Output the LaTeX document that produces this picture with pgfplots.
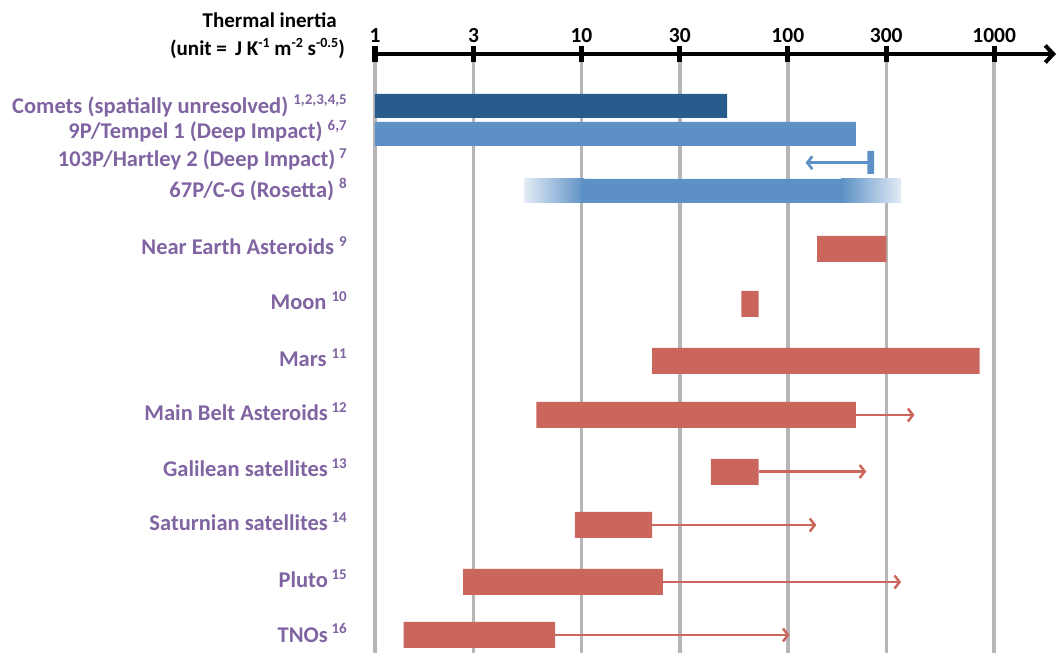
\documentclass[border=0pt]{standalone}
\usepackage{fontspec}
\setmainfont{Carlito}
\usepackage{pgfplots}
\pgfplotsset{compat=1.18}
\usetikzlibrary{arrows.meta}
\definecolor{lab}{RGB}{128,100,162}
\definecolor{dblue}{RGB}{39,92,141}
\definecolor{lblue}{RGB}{93,145,197}
\definecolor{pale}{RGB}{226,235,245}
\definecolor{bred}{RGB}{203,102,92}
\definecolor{grd}{RGB}{182,182,182}
\newcommand\sups[1]{\raisebox{8.5bp}{\fontsize{15bp}{15bp}\selectfont #1}}
\begin{document}
\begin{tikzpicture}
\useasboundingbox (0,0) rectangle (1060bp,653bp);
\begin{axis}[
  at={(375bp,0bp)}, anchor=south west,
  scale only axis, width=681bp, height=599bp,
  xmode=log, xmin=1, xmax=1993, ymin=-653, ymax=-54,
  axis x line=top, axis y line=left,
  x axis line style={line width=4bp, -{Straight Barb[length=8bp,width=17bp,line width=4bp]}},
  y axis line style={draw=none},
  xtick={1,3,10,30,100,300,1000},
  xticklabels={1,3,10,30,100,300,1000},
  minor xtick={},
  xmajorgrids, major grid style={grd, line width=3.5bp},
  major x tick style={black, line width=5bp}, major tick length=16bp, tick align=center,
  x tick label style={font=\fontsize{21.5bp}{24bp}\selectfont\bfseries, anchor=base, yshift=3bp},
  ytick={-113.3,-139,-166.7,-197.3,-255,-310,-366.7,-420.7,-476.7,-530.7,-587.7,-642.3},
  yticklabels={
    {Comets (spatially unresolved) \sups{1,2,3,4,5}},
    {9P/Tempel 1 (Deep Impact) \sups{6,7}},
    {103P/Hartley 2 (Deep Impact)\,\sups{7}},
    {67P/C-G (Rosetta) \sups{8}},
    {Near Earth Asteroids \sups{9}},
    {Moon \sups{10}},
    {Mars \sups{11}},
    {Main Belt Asteroids\,\sups{12}},
    {Galilean satellites\,\sups{13}},
    {Saturnian satellites\,\sups{14}},
    {Pluto\,\sups{15}},
    {TNOs\,\sups{16}}},
  major y tick style={draw=none},
  y tick label style={font=\fontsize{22.5bp}{26bp}\selectfont\bfseries, text=lab, anchor=base east, inner sep=0pt, xshift=-20bp},
  clip=false,
]
% comets (blue)
\addplot[draw=none, fill=dblue] coordinates {(1,-94) (50.8,-94) (50.8,-118) (1,-118) (1,-94)};
\addplot[draw=none, fill=lblue] coordinates {(1,-122) (214,-122) (214,-146) (1,-146) (1,-122)};
\addplot[lblue, line width=2.7bp, {Straight Barb[length=5bp,width=13bp,line width=2.7bp]}-] coordinates {(122,-162.7) (248,-162.7)};
\addplot[draw=none, fill=lblue] coordinates {(243,-151) (262,-151) (262,-174) (243,-174) (243,-151)};
\addplot[draw=none, left color=pale, right color=lblue] coordinates {(5.3,-179) (10.3,-179) (10.3,-203) (5.3,-203) (5.3,-179)};
\addplot[draw=none, fill=lblue] coordinates {(10,-179) (184,-179) (184,-203) (10,-203) (10,-179)};
\addplot[draw=none, left color=lblue, right color=pale] coordinates {(182,-179) (354,-179) (354,-203) (182,-203) (182,-179)};
% other bodies (red)
\addplot[draw=none, fill=bred] coordinates {(138.6,-236) (300,-236) (300,-262) (138.6,-262) (138.6,-236)};
\addplot[draw=none, fill=bred] coordinates {(59.5,-291) (72.2,-291) (72.2,-317) (59.5,-317) (59.5,-291)};
\addplot[draw=none, fill=bred] coordinates {(22,-348) (851,-348) (851,-374) (22,-374) (22,-348)};
\addplot[draw=none, fill=bred] coordinates {(6.05,-402) (214,-402) (214,-428) (6.05,-428) (6.05,-402)};
\addplot[bred, line width=2.5bp, -{Straight Barb[length=5bp,width=13bp,line width=2.5bp]}] coordinates {(214,-415) (411,-415)};
\addplot[draw=none, fill=bred] coordinates {(42.4,-459) (72.2,-459) (72.2,-485) (42.4,-485) (42.4,-459)};
\addplot[bred, line width=2.5bp, -{Straight Barb[length=5bp,width=13bp,line width=2.5bp]}] coordinates {(72.2,-471.5) (240,-471.5)};
\addplot[draw=none, fill=bred] coordinates {(9.3,-512) (22,-512) (22,-538) (9.3,-538) (9.3,-512)};
\addplot[bred, line width=2.5bp, -{Straight Barb[length=5bp,width=13bp,line width=2.5bp]}] coordinates {(22,-525) (137.5,-525)};
\addplot[draw=none, fill=bred] coordinates {(2.67,-569) (24.8,-569) (24.8,-595) (2.67,-595) (2.67,-569)};
\addplot[bred, line width=2.5bp, -{Straight Barb[length=5bp,width=13bp,line width=2.5bp]}] coordinates {(24.8,-582) (354,-582)};
\addplot[draw=none, fill=bred] coordinates {(1.377,-622) (7.47,-622) (7.47,-648) (1.377,-648) (1.377,-622)};
\addplot[bred, line width=2.5bp, -{Straight Barb[length=5bp,width=13bp,line width=2.5bp]}] coordinates {(7.47,-635) (102,-635)};
\end{axis}
\node[anchor=base east, inner sep=0pt, font=\fontsize{21bp}{24bp}\selectfont\bfseries] at (337bp,625bp) {Thermal inertia};
\node[anchor=base east, inner sep=0pt, font=\fontsize{21bp}{24bp}\selectfont\bfseries] at (345bp,597bp) {(unit = \,J K\raisebox{8bp}{\fontsize{14bp}{14bp}\selectfont -1} m\raisebox{8bp}{\fontsize{14bp}{14bp}\selectfont -2} s\raisebox{8bp}{\fontsize{14bp}{14bp}\selectfont -0.5})};
\end{tikzpicture}
\end{document}
